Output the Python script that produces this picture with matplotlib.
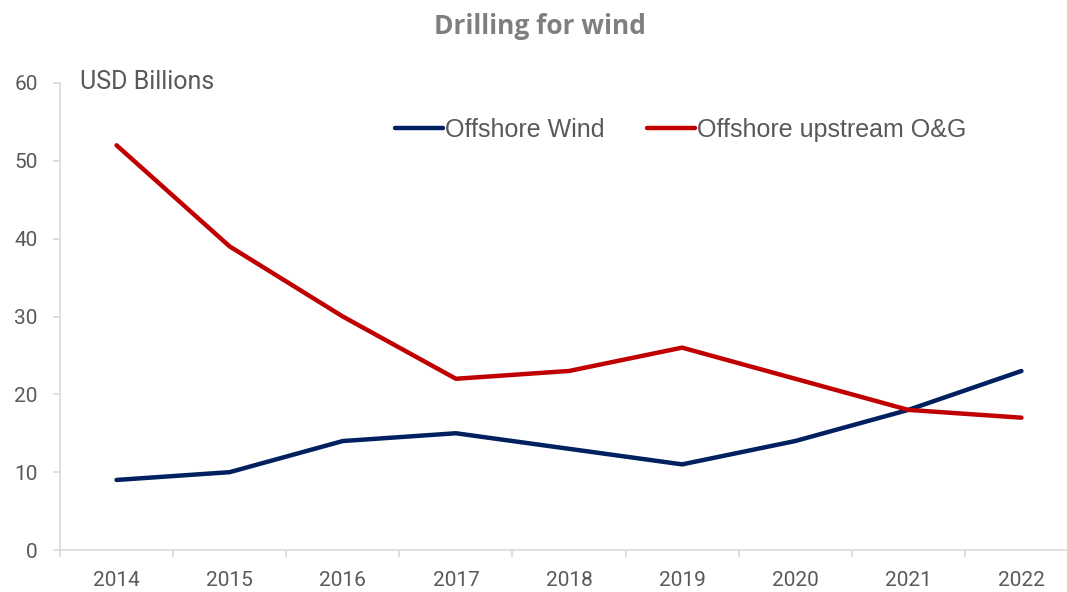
import matplotlib
matplotlib.use("Agg")
import matplotlib.pyplot as plt
from matplotlib.ticker import FixedLocator

years = ["2014", "2015", "2016", "2017", "2018", "2019", "2020", "2021", "2022"]
offshore_wind = [9, 10, 14, 15, 13, 11, 14, 18, 23]
offshore_og = [52, 39, 30, 22, 23, 26, 22, 18, 17]

fig = plt.figure(figsize=(10.67, 5.92), dpi=100)
ax = fig.add_axes([60/1067, 1-550/592, 1018/1067, (550-83)/592])

x = list(range(len(years)))
l1, = ax.plot(x, offshore_wind, color="#002060", lw=3.2, solid_capstyle="round", label="Offshore Wind")
l2, = ax.plot(x, offshore_og, color="#C00000", lw=3.2, solid_capstyle="round", label="Offshore upstream O&G")

ax.set_xlim(-0.5, len(years) - 0.5)
ax.set_ylim(0, 60)
ax.set_yticks(range(0, 61, 10))
ax.set_xticks(x)
ax.set_xticklabels(years)
ax.xaxis.set_minor_locator(FixedLocator([i - 0.5 for i in range(len(years) + 1)]))

for s in ["top", "right"]:
    ax.spines[s].set_visible(False)
for s in ["left", "bottom"]:
    ax.spines[s].set_color("#d9d9d9")
    ax.spines[s].set_linewidth(1.2)

tc = "#595959"
ax.tick_params(axis="x", which="major", length=0, pad=15, labelsize=15, labelcolor=tc)
ax.tick_params(axis="x", which="minor", length=5, color="#d9d9d9", width=1.2, direction="out")
ax.tick_params(axis="y", length=5, color="#d9d9d9", width=1.2, direction="out", pad=11,
               labelsize=15, labelcolor=tc)
for lab in ax.get_xticklabels() + ax.get_yticklabels():
    lab.set_fontfamily("Roboto")

fig.text(80/1067, 1-82/592, "USD Billions", fontfamily="Roboto", fontsize=18, color=tc,
         va="center", ha="left")
fig.text(540/1067, 1-27/592, "Drilling for wind", fontfamily="Open Sans", fontweight="bold",
         fontsize=19, color="#7f7f7f", va="center", ha="center")

leg = fig.legend(handles=[l1, l2], loc="center", bbox_to_anchor=(681/1067, 1-130/592), ncol=2,
                 frameon=False, handlelength=1.9, handletextpad=0.1, columnspacing=1.7,
                 prop={"family": "Liberation Sans", "size": 18})
for t in leg.get_texts():
    t.set_color(tc)

fig.savefig("out.png", dpi=100)
